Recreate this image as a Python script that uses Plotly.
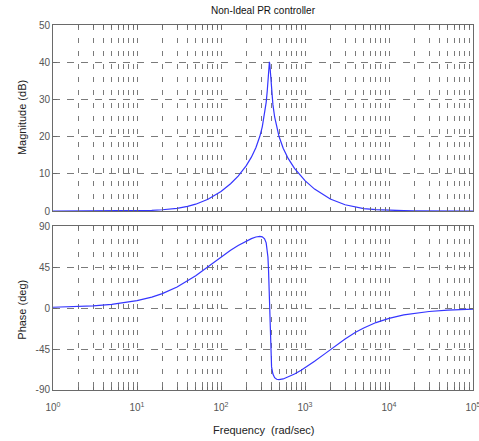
import plotly.graph_objects as go

# Frequency response of the non-ideal PR controller
freq = [1, 2, 3, 5, 7, 10, 15, 20, 30, 40, 50, 70, 100, 130, 160, 200, 230, 260, 290,
        310, 330, 345, 355, 362, 368, 373, 377, 381, 386, 393, 400, 415, 435, 460, 490,
        550, 630, 750, 900, 1000, 1300, 1700, 2000, 3000, 4000, 5000, 7000,
        10000, 15000, 20000, 30000, 50000, 70000, 100000]

mag_db = [0.00, 0.00, 0.01, 0.02, 0.04, 0.09, 0.19, 0.34, 0.73, 1.24, 1.83, 3.14,
          5.23, 7.32, 9.39, 12.21, 14.48, 17.03, 20.08,
          22.62, 25.89, 29.22, 32.20, 34.84, 37.46, 39.44, 40.09,
          39.45, 37.56, 34.70, 32.32, 28.59, 25.28, 22.47, 20.09,
          16.88, 14.13, 11.45, 9.24,
          8.16, 5.88, 4.08, 3.22, 1.67, 1.00, 0.66, 0.35,
          0.17, 0.08, 0.04, 0.02, 0.01, 0.00, 0.00]

phase_deg = [0.81, 1.61, 2.42, 4.02, 5.63, 8.01, 11.93, 15.75, 22.98, 29.57, 35.47, 45.27,
             55.95, 63.31, 68.60, 73.57, 76.18, 77.93, 78.64,
             78.12, 75.91, 71.47, 64.91, 55.98, 41.82, 21.68, 0.00,
             -21.47, -41.14, -56.58, -64.63, -72.53, -76.46, -78.18, -78.64,
             -77.86, -75.85, -72.45, -68.28,
             -65.65, -58.51, -50.62, -45.73, -34.00, -26.71, -21.88, -15.98,
             -11.32, -7.60, -5.71, -3.81, -2.29, -1.64, -1.15]

mag_ticks = [0, 10, 20, 30, 40, 50]
phase_ticks = [-90, -45, 0, 45, 90]
phase_ticktext = ["-90", "-45", "0", "45", "90"]
decades = [1, 10, 100, 1000, 10000, 100000]
decade_labels = ["10<sup>0</sup>", "10<sup>1</sup>", "10<sup>2</sup>",
                 "10<sup>3</sup>", "10<sup>4</sup>", "10<sup>5</sup>"]

minor_vals = [d * m for d in decades[:-1] for m in range(2, 10)]

grid_col = "#7a7a7a"
frame_col = "#6a6a6a"
tick_font = dict(family="Liberation Sans, Arial, sans-serif", size=10, color="#555555")
label_font = dict(family="Liberation Sans, Arial, sans-serif", size=11, color="#222222")
curve_line = dict(color="#3535ff", width=1.2)

fig = go.Figure()
fig.add_trace(go.Scatter(x=freq, y=mag_db, mode="lines", line=curve_line,
                         xaxis="x", yaxis="y", showlegend=False, hoverinfo="skip"))
fig.add_trace(go.Scatter(x=freq, y=phase_deg, mode="lines", line=curve_line,
                         xaxis="x2", yaxis="y2", showlegend=False, hoverinfo="skip"))


def freq_axis(anchor, labels):
    return dict(
        type="log", range=[0, 5], anchor=anchor, domain=[0, 1],
        tickmode="array", tickvals=decades, ticktext=decade_labels,
        showticklabels=labels, tickfont=tick_font, ticklabeloverflow="allow",
        ticklabelstandoff=8,
        showgrid=True, gridcolor=grid_col, gridwidth=1, griddash="5px,8px",
        ticks="inside", ticklen=4, tickcolor=frame_col,
        showline=True, linecolor=frame_col, linewidth=1, mirror="ticks",
        zeroline=False, automargin=False,
        minor=dict(tickmode="array", tickvals=minor_vals, showgrid=True,
                   gridcolor=grid_col, gridwidth=1, griddash="5px,8px",
                   ticks="inside", ticklen=3, tickcolor=frame_col),
    )


def value_axis(anchor, domain, rng, vals, text):
    return dict(
        anchor=anchor, domain=domain, range=rng,
        tickmode="array", tickvals=vals, ticktext=text, tickfont=tick_font,
        showgrid=True, gridcolor=grid_col, gridwidth=1, griddash="7px,7px",
        ticks="inside", ticklen=4, tickcolor=frame_col,
        showline=True, linecolor=frame_col, linewidth=1, mirror="ticks",
        zeroline=False, automargin=False,
    )


fig.update_layout(
    width=479, height=441,
    margin=dict(l=53, r=6, t=25, b=51),
    paper_bgcolor="white", plot_bgcolor="white",
    xaxis=freq_axis("y", False),
    yaxis=value_axis("x", [0.4904, 1], [0, 50], mag_ticks, [str(v) for v in mag_ticks]),
    xaxis2=freq_axis("y2", True),
    yaxis2=value_axis("x2", [0, 0.4493], [-90, 90], phase_ticks, phase_ticktext),
    title=dict(text="Non-Ideal PR controller", x=0.5, xref="paper",
               y=1 - 10 / 441, yref="container", yanchor="middle", xanchor="center",
               font=dict(family="Liberation Sans, Arial, sans-serif", size=10, color="#111111")),
    annotations=[
        dict(text="Magnitude (dB)", textangle=-90, x=-31 / 420, y=0.745,
             xref="paper", yref="paper", showarrow=False, font=label_font,
             xanchor="center", yanchor="middle"),
        dict(text="Phase (deg)", textangle=-90, x=-31 / 420, y=0.22,
             xref="paper", yref="paper", showarrow=False, font=label_font,
             xanchor="center", yanchor="middle"),
        dict(text="Frequency  (rad/sec)", x=0.5, y=-40 / 365,
             xref="paper", yref="paper", showarrow=False, font=label_font,
             xanchor="center", yanchor="middle"),
    ],
)

fig.write_html("out.html")
